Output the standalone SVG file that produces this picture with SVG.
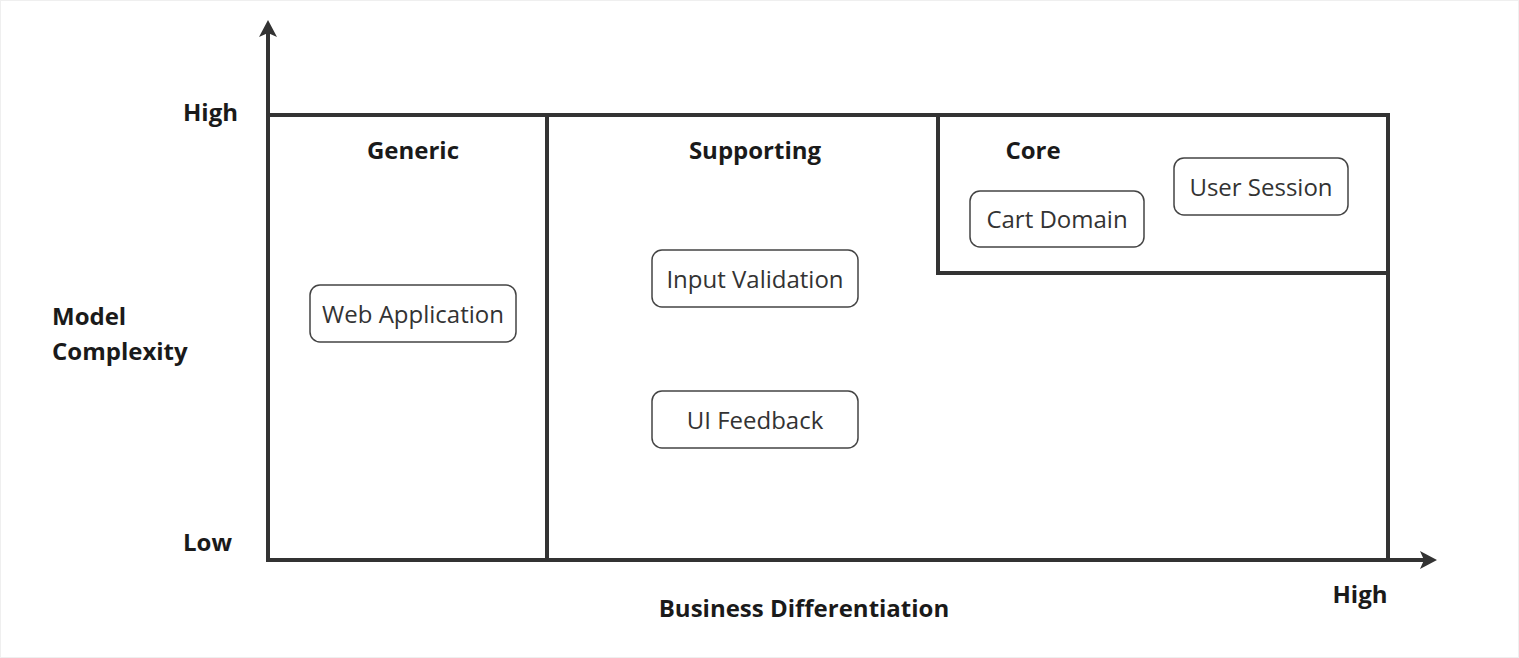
<svg xmlns="http://www.w3.org/2000/svg" width="1519" height="658" viewBox="0 0 1519 658">
<defs>
<style>
.ax{stroke:#333;stroke-width:4;fill:none}
.ln{stroke:#333;stroke-width:4;fill:none}
.lb{font-family:"Open Sans","Liberation Sans",sans-serif;font-weight:bold;font-size:24px;fill:#1a1a1a}
.nd rect{fill:#fff;stroke:#444;stroke-width:1.5}
.nd text{font-family:"Open Sans","Liberation Sans",sans-serif;font-size:24px;fill:#333;text-anchor:middle;dominant-baseline:central}
</style>
</defs>
<rect x="0.5" y="0.5" width="1518" height="657" fill="#fff" stroke="#efefef" stroke-width="1"/>
<g id="connectors">
<line class="ax" x1="268" y1="562" x2="268" y2="24"/>
<path d="M268,20 L277,37 L268,33 L259,37 Z" fill="#333"/>
<line class="ax" x1="266" y1="560" x2="1432" y2="560"/>
<path d="M1437,560 L1420,551 L1424,560 L1420,569 Z" fill="#333"/>
<line class="ln" x1="268" y1="115" x2="1390" y2="115"/>
<line class="ln" x1="547" y1="115" x2="547" y2="560"/>
<line class="ln" x1="1388" y1="115" x2="1388" y2="560"/>
<polyline class="ln" points="938,115 938,273 1388,273"/>
</g>
<g id="labels">
<text class="lb" x="183" y="121">High</text>
<text class="lb" x="183" y="551">Low</text>
<text class="lb" x="52" y="325">Model</text>
<text class="lb" x="52" y="360">Complexity</text>
<text class="lb" x="804" y="617" text-anchor="middle">Business Differentiation</text>
<text class="lb" x="1360" y="603" text-anchor="middle">High</text>
<text class="lb" x="413" y="159" text-anchor="middle">Generic</text>
<text class="lb" x="755" y="159" text-anchor="middle">Supporting</text>
<text class="lb" x="1033" y="159" text-anchor="middle">Core</text>
</g>
<g id="web-application" class="nd"><rect x="310" y="285" width="206" height="57" rx="10"/><text x="413" y="313">Web Application</text></g>
<g id="input-validation" class="nd"><rect x="652" y="250" width="206" height="57" rx="10"/><text x="755" y="278">Input Validation</text></g>
<g id="ui-feedback" class="nd"><rect x="652" y="391" width="206" height="57" rx="10"/><text x="755" y="419">UI Feedback</text></g>
<g id="cart-domain" class="nd"><rect x="970" y="191" width="174" height="56" rx="10"/><text x="1057" y="218">Cart Domain</text></g>
<g id="user-session" class="nd"><rect x="1174" y="158" width="174" height="57" rx="10"/><text x="1261" y="186">User Session</text></g>
</svg>
